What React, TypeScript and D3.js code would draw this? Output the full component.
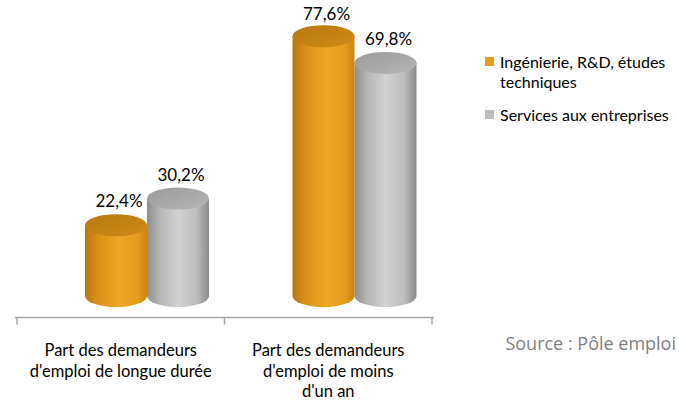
import React from "react";
import * as d3 from "d3";

const categories = [
  ["Part des demandeurs", "d'emploi de longue durée"],
  ["Part des demandeurs", "d'emploi de moins", "d'un an"],
];
const seriesNames = ["Ingénierie, R&D, études techniques", "Services aux entreprises"];
const ingenierie = [22.4, 77.6];
const services = [30.2, 69.8];
const legendLines = [["Ingénierie, R&D, études", "techniques"], ["Services aux entreprises"]];
const sourceText = "Source : Pôle emploi";

const W = 679;
const H = 402;

export default function App() {
  const catIdx = categories.map((_, i) => String(i));
  const x0 = d3.scaleBand<string>().domain(catIdx).range([17, 432]);
  const x1 = d3.scaleBand<string>().domain(["0", "1"]).range([68, 192]);
  const y = d3.scaleLinear().domain([0, 80]).range([302, 28]);
  const rx = 31;
  const ry = 11;
  const font = "Lato, 'Open Sans', sans-serif";

  const seriesData = [ingenierie, services];
  const grads = ["gOrange", "gGray"];
  const tops = ["gOrangeTop", "gGrayTop"];
  const legendColors = ["#E39B1C", "#BEBEBE"];

  const order = [1, 0];

  const bars: React.ReactNode[] = [];
  const labels: React.ReactNode[] = [];
  catIdx.forEach((c, ci) => {
    order.forEach((si) => {
      const v = seriesData[si][ci];
      const cx = (x0(c) as number) + (x1(String(si)) as number) + x1.bandwidth() / 2;
      const yTop = y(v);
      const yBot = y(0) - 6;
      const l = cx - rx;
      const r = cx + rx;
      bars.push(
        <g key={`b${ci}${si}`}>
          <path
            d={`M${l},${yTop} L${l},${yBot} A${rx},${ry} 0 0 0 ${r},${yBot} L${r},${yTop} Z`}
            fill={`url(#${grads[si]})`}
          />
          <ellipse cx={cx} cy={yTop} rx={rx} ry={ry} fill={`url(#${tops[si]})`} />
        </g>
      );
      labels.push(
        <text
          key={`l${ci}${si}`}
          x={cx + 3}
          y={Math.max(yTop - ry - 7, 20)}
          textAnchor="middle"
          fontSize={17}
          fontFamily={font}
          fill="#000"
        >
          {v.toFixed(1).replace(".", ",")}%
        </text>
      );
    });
  });

  const axisY = 317.5;
  const tickXs = [17, 224.5, 432];

  return (
    <svg
      width={W}
      height={H}
      style={{ position: "absolute", left: 0, top: 0, background: "#fff" }}
    >
      <defs>
        <linearGradient id="gOrange" x1="0" x2="1" y1="0" y2="0">
          <stop offset="0" stopColor="#B9770E" />
          <stop offset="0.2" stopColor="#D88F17" />
          <stop offset="0.55" stopColor="#F0A623" />
          <stop offset="0.85" stopColor="#E59B1C" />
          <stop offset="1" stopColor="#C9850F" />
        </linearGradient>
        <linearGradient id="gOrangeTop" x1="0" x2="1" y1="0" y2="1">
          <stop offset="0" stopColor="#B7770F" />
          <stop offset="1" stopColor="#D08B17" />
        </linearGradient>
        <linearGradient id="gGray" x1="0" x2="1" y1="0" y2="0">
          <stop offset="0" stopColor="#8E8E8E" />
          <stop offset="0.2" stopColor="#B4B4B4" />
          <stop offset="0.5" stopColor="#D2D2D2" />
          <stop offset="0.8" stopColor="#BDBDBD" />
          <stop offset="1" stopColor="#8A8A8A" />
        </linearGradient>
        <linearGradient id="gGrayTop" x1="0" x2="1" y1="0" y2="1">
          <stop offset="0" stopColor="#9A9A9A" />
          <stop offset="1" stopColor="#B6B6B6" />
        </linearGradient>
      </defs>

      {bars}
      {labels}

      <line x1={15} x2={434} y1={axisY} y2={axisY} stroke="#A6A6A6" strokeWidth={1.5} />
      {tickXs.map((tx, i) => (
        <line key={i} x1={tx} x2={tx} y1={axisY} y2={axisY + 7} stroke="#A6A6A6" strokeWidth={1.5} />
      ))}

      {categories.map((lines, ci) => {
        const cx = (x0(String(ci)) as number) + x0.bandwidth() / 2;
        return (
          <text key={`c${ci}`} textAnchor="middle" fontSize={16.5} fontFamily={font} fill="#000">
            {lines.map((ln, li) => (
              <tspan key={li} x={cx} y={356 + li * 20.5}>
                {ln}
              </tspan>
            ))}
          </text>
        );
      })}

      {legendLines.map((lines, i) => {
        const top = i === 0 ? 57 : 110;
        return (
          <g key={`lg${i}`}>
            <rect x={485} y={top} width={9} height={9} fill={legendColors[i]} />
            <text fontSize={16} fontFamily={font} fill="#000">
              {lines.map((ln, li) => (
                <tspan key={li} x={500} y={top + 11 + li * 20}>
                  {ln}
                </tspan>
              ))}
            </text>
          </g>
        );
      })}

      <text
        x={676}
        y={350}
        textAnchor="end"
        fontSize={18}
        fontFamily="'Open Sans', sans-serif"
        fill="#7F7F7F"
      >
        {sourceText}
      </text>
    </svg>
  );
}
